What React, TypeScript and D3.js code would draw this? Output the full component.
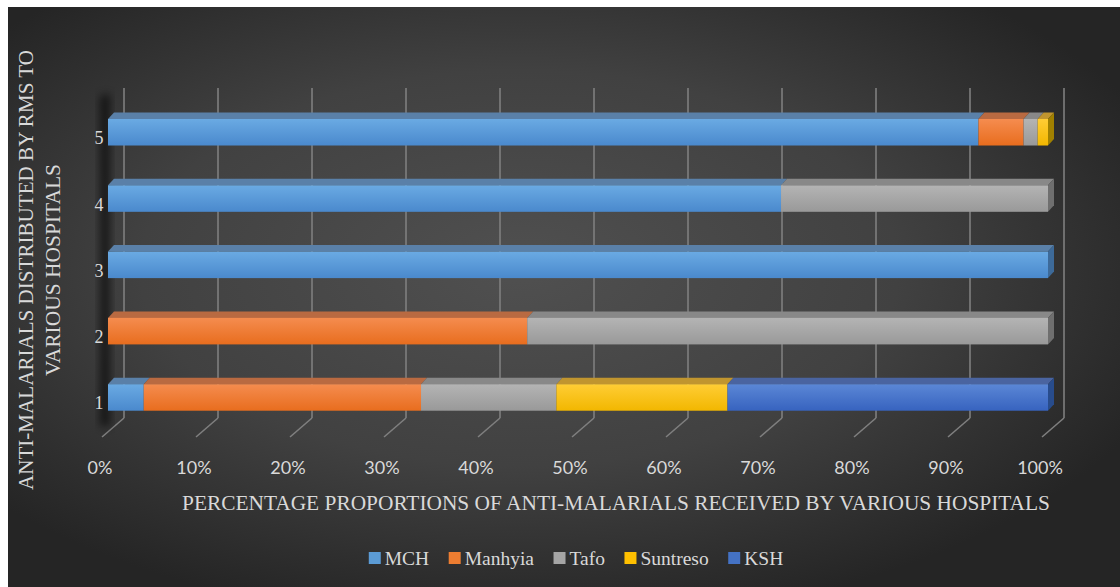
import React from 'react';
import * as d3 from 'd3';

// ---------- data ----------
const categories = ['1', '2', '3', '4', '5'];
const seriesNames = ['MCH', 'Manhyia', 'Tafo', 'Suntreso', 'KSH'];
const mchValues = [3.8, 0, 100, 71.6, 92.6];
const manhyiaValues = [29.5, 44.6, 0, 0, 4.8];
const tafoValues = [14.4, 55.4, 0, 28.4, 1.5];
const suntresoValues = [18.2, 0, 0, 0, 1.1];
const kshValues = [34.1, 0, 0, 0, 0];
const xTicks = [0, 10, 20, 30, 40, 50, 60, 70, 80, 90, 100];
const xTitle = 'PERCENTAGE PROPORTIONS OF ANTI-MALARIALS RECEIVED BY VARIOUS HOSPITALS';
const yTitleLines = ['ANTI-MALARIALS DISTRIBUTED BY RMS TO', 'VARIOUS HOSPITALS'];

// ---------- styles ----------
const palette: Record<string, { f0: string; f1: string; top: string; side: string; legend: string }> = {
  MCH: { f0: '#6aaae3', f1: '#4a89cd', top: '#5a80a8', side: '#3d6a99', legend: '#5b9bd5' },
  Manhyia: { f0: '#f58c4f', f1: '#e86d1e', top: '#b96a41', side: '#a04f1a', legend: '#ed7d31' },
  Tafo: { f0: '#b4b4b4', f1: '#999999', top: '#888888', side: '#6f6f6f', legend: '#a5a5a5' },
  Suntreso: { f0: '#ffcd35', f1: '#f2b700', top: '#c0952f', side: '#a08000', legend: '#ffc000' },
  KSH: { f0: '#5b87d6', f1: '#3763bf', top: '#4a64a0', side: '#284c8c', legend: '#4472c4' },
};
const textColor = '#d9d9d9';
const serif = '"Liberation Serif", "DejaVu Serif", serif';
const sans = 'Lato, "Open Sans", sans-serif';

const W = 1120;
const H = 587;
const DX = 6; // bar depth x
const DY = 6.5; // bar depth y
const WALL_DX = 16; // back wall offset from bar front
const FLOOR_DX = -6; // floor front offset from bar front
const WALL_TOP = 88;
const WALL_BOTTOM = 418;
const FLOOR_FRONT = 437;

function measure(text: string, font: string): number {
  const c = document.createElement('canvas').getContext('2d');
  if (!c) return text.length * 10;
  c.font = font;
  return c.measureText(text).width;
}

export default function App() {
  const rows = categories.map((c, i) => ({
    cat: c,
    MCH: mchValues[i],
    Manhyia: manhyiaValues[i],
    Tafo: tafoValues[i],
    Suntreso: suntresoValues[i],
    KSH: kshValues[i],
  }));
  const stacked = d3.stack<any>().keys(seriesNames)(rows);

  const x = d3.scaleLinear().domain([0, 100]).range([108, 1048]);
  const y = d3
    .scaleBand<string>()
    .domain([...categories].reverse())
    .range([99.1, 430.6])
    .paddingInner(0.6)
    .paddingOuter(0.3);
  const bw = y.bandwidth();

  // legend layout
  const legendFont = `19.5px ${serif}`;
  const sq = 12;
  const gapSqText = 4;
  const gapItem = 19.5;
  const widths = seriesNames.map((s) => measure(s, legendFont));
  const totalLegend = widths.reduce((a, w) => a + sq + gapSqText + w, 0) + gapItem * (seriesNames.length - 1);
  let lx = 576 - totalLegend / 2;
  const legendItems = seriesNames.map((s, i) => {
    const item = { name: s, x: lx, w: widths[i] };
    lx += sq + gapSqText + widths[i] + gapItem;
    return item;
  });

  // end segments for side faces
  const rowEnds = categories.map((c, i) => {
    let best: { key: string; v: number } | null = null;
    stacked.forEach((s) => {
      const d = s[i];
      if (d[1] - d[0] > 0) best = { key: s.key, v: d[1] };
    });
    return best as any;
  });

  return (
    <svg width={W} height={H} style={{ position: 'absolute', left: 0, top: 0, display: 'block' }}>
      <defs>
        <radialGradient id="bg" cx="0.46" cy="0.45" r="0.62" gradientUnits="objectBoundingBox">
          <stop offset="0" stopColor="#505050" />
          <stop offset="0.55" stopColor="#414141" />
          <stop offset="1" stopColor="#252525" />
        </radialGradient>
        {seriesNames.map((s) => (
          <linearGradient key={s} id={`g-${s}`} x1="0" y1="0" x2="0" y2="1">
            <stop offset="0" stopColor={palette[s].f0} />
            <stop offset="1" stopColor={palette[s].f1} />
          </linearGradient>
        ))}
        <filter id="shadowBlur" x="-50%" y="-10%" width="200%" height="120%">
          <feGaussianBlur stdDeviation="4" />
        </filter>
      </defs>
      <rect x={0} y={0} width={W} height={H} fill="#ffffff" />
      <rect x={8} y={7} width={W - 8} height={H - 7} fill="url(#bg)" />

      {/* back wall gridlines and floor diagonals */}
      {xTicks.map((t) => (
        <g key={`grid-${t}`} stroke="#7f7f7f" strokeWidth={1.6} fill="none">
          <line x1={x(t) + WALL_DX} x2={x(t) + WALL_DX} y1={WALL_TOP} y2={WALL_BOTTOM} />
          <line x1={x(t) + WALL_DX} y1={WALL_BOTTOM} x2={x(t) + FLOOR_DX} y2={FLOOR_FRONT} />
        </g>
      ))}

      {/* side shadow */}
      <polygon
        points={`${x(0) - 8},${WALL_TOP + 8} ${x(0) + 2},${WALL_TOP + 6} ${x(0) + 2},${WALL_BOTTOM + 8} ${x(0) - 8},${WALL_BOTTOM + 8}`}
        fill="#000"
        opacity={0.6}
        filter="url(#shadowBlur)"
      />

      {/* bars */}
      {categories.map((c, i) => {
        const y0 = y(c) as number;
        return (
          <g key={`row-${c}`}>
            {stacked.map((s) => {
              const d = s[i];
              if (d[1] - d[0] <= 0) return null;
              const x0 = x(d[0]);
              const x1 = x(d[1]);
              const p = palette[s.key];
              return (
                <g key={s.key}>
                  <polygon
                    points={`${x0},${y0} ${x1},${y0} ${x1 + DX},${y0 - DY} ${x0 + DX},${y0 - DY}`}
                    fill={p.top}
                  />
                  <rect x={x0} y={y0} width={x1 - x0} height={bw} fill={`url(#g-${s.key})`} />
                </g>
              );
            })}
            {rowEnds[i] && (
              <polygon
                points={`${x(rowEnds[i].v)},${y0} ${x(rowEnds[i].v) + DX},${y0 - DY} ${x(rowEnds[i].v) + DX},${y0 + bw - DY} ${x(rowEnds[i].v)},${y0 + bw}`}
                fill={palette[rowEnds[i].key].side}
              />
            )}
          </g>
        );
      })}

      {/* category labels */}
      {categories.map((c) => (
        <text
          key={`cat-${c}`}
          x={x(0) - 9}
          y={(y(c) as number) + bw / 2 + 6}
          textAnchor="middle"
          dominantBaseline="central"
          fontFamily={serif}
          fontSize={18}
          fill={textColor}
        >
          {c}
        </text>
      ))}

      {/* x tick labels */}
      {xTicks.map((t) => (
        <text
          key={`tick-${t}`}
          x={x(t) - 8}
          y={467}
          textAnchor="middle"
          dominantBaseline="central"
          fontFamily={sans}
          fontSize={18}
          fill={textColor}
        >
          {`${t}%`}
        </text>
      ))}

      {/* x axis title */}
      <text
        x={616}
        y={510}
        textAnchor="middle"
        fontFamily={serif}
        fontSize={20}
        fill={textColor}
        textLength={868}
        lengthAdjust="spacingAndGlyphs"
      >
        {xTitle}
      </text>

      {/* y axis title */}
      <text
        transform={`translate(33,270) rotate(-90)`}
        textAnchor="middle"
        fontFamily={serif}
        fontSize={20}
        fill={textColor}
        textLength={440}
        lengthAdjust="spacingAndGlyphs"
      >
        {yTitleLines[0]}
      </text>
      <text
        transform={`translate(60,270) rotate(-90)`}
        textAnchor="middle"
        fontFamily={serif}
        fontSize={20}
        fill={textColor}
        textLength={212}
        lengthAdjust="spacingAndGlyphs"
      >
        {yTitleLines[1]}
      </text>

      {/* legend */}
      {legendItems.map((it) => (
        <g key={`leg-${it.name}`}>
          <rect x={it.x} y={552} width={sq} height={sq} fill={palette[it.name].legend} />
          <text x={it.x + sq + gapSqText} y={564.5} fontFamily={serif} fontSize={19.5} fill={textColor}>
            {it.name}
          </text>
        </g>
      ))}
    </svg>
  );
}
